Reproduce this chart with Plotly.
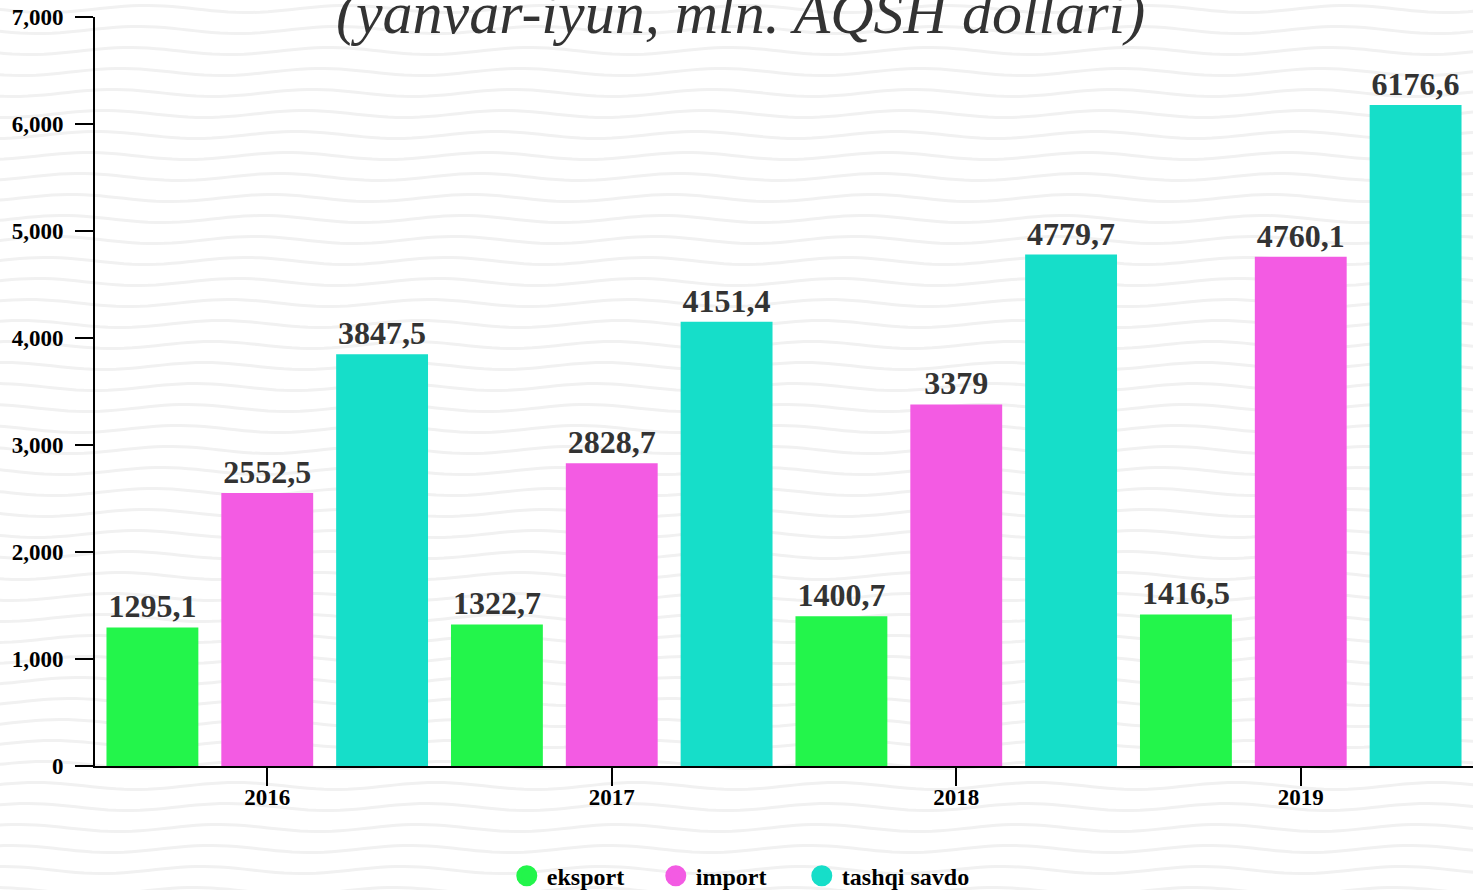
import numpy as np
import plotly.graph_objects as go

years = ["2016", "2017", "2018", "2019"]
eksport = [1295.1, 1322.7, 1400.7, 1416.5]
importv = [2552.5, 2828.7, 3379.0, 4760.1]
tashqi = [3847.5, 4151.4, 4779.7, 6176.6]
eksport_lbl = ["1295,1", "1322,7", "1400,7", "1416,5"]
import_lbl = ["2552,5", "2828,7", "3379", "4760,1"]
tashqi_lbl = ["3847,5", "4151,4", "4779,7", "6176,6"]
series_names = ["eksport", "import", "tashqi savdo"]
colors = ["#23f54b", "#f35be3", "#16dec9"]
legend_widths = [104, 101, 140]
title_text = "(yanvar-iyun, mln. AQSH dollari)"

W, H = 1473, 890
L, R, T, B = 95, 0, 17, 124
pw, ph = W - L - R, H - T - B

FONT = "Liberation Serif"

fig = go.Figure()
for name, vals, lbls, col, lw in zip(series_names, [eksport, importv, tashqi],
                                     [eksport_lbl, import_lbl, tashqi_lbl], colors,
                                     legend_widths):
    fig.add_trace(go.Bar(
        x=years, y=vals, name=name, marker=dict(color=col, line=dict(width=0)),
        text=lbls, textposition="outside", cliponaxis=False,
        textfont=dict(family=FONT, size=32, color="#333333", weight="bold"),
        showlegend=False, hoverinfo="x+y"))
    fig.add_trace(go.Scatter(
        x=[None], y=[None], mode="markers", name=name, legendwidth=lw,
        marker=dict(symbol="circle", size=22, color=col, line=dict(color=col, width=6)),
        showlegend=True))

# decorative wavy background
shapes = []
def px2paper(px, py):
    return (px - L) / pw, (H - B - py) / ph

xs = np.arange(-20, W + 21, 8)
for base in np.arange(-12, H + 20, 21):
    pts = []
    for xx in xs:
        yy = base + 3.5 * np.sin(2 * np.pi * (xx + 0.4 * base) / 200.0)
        a, b = px2paper(xx, yy)
        pts.append(f"{a:.5f},{b:.5f}")
    path = "M" + " L".join(pts)
    shapes.append(dict(type="path", path=path, xref="paper", yref="paper",
                       line=dict(color="#f1f1f1", width=3), layer="below"))

fig.update_layout(
    width=W, height=H,
    margin=dict(l=L, r=R, t=T, b=B, pad=0, autoexpand=False),
    paper_bgcolor="white", plot_bgcolor="rgba(0,0,0,0)",
    barmode="group", bargap=0.0, bargroupgap=0.2,
    shapes=shapes,
    font=dict(family=FONT, color="black"),
    legend=dict(orientation="h", x=0.473, xanchor="center", y=-0.117, yanchor="top",
                entrywidthmode="pixels",
                font=dict(family=FONT, size=24, color="black", weight="bold"),
                bgcolor="rgba(0,0,0,0)"),
    annotations=[dict(text=title_text, xref="paper", yref="paper", x=0.4685, y=1.0054,
                      xanchor="center", yanchor="middle", showarrow=False,
                      font=dict(family=FONT, size=60, color="#333333", style="italic"))],
    xaxis=dict(showline=True, linecolor="black", linewidth=2, ticks="outside",
               ticklen=18, tickwidth=2, tickcolor="black", showgrid=False,
               automargin=False, ticklabelstandoff=-9,
               tickfont=dict(family=FONT, size=23, color="black", weight="bold")),
    yaxis=dict(range=[0, 7000], dtick=1000, tickformat=",d", showline=True,
               linecolor="black", linewidth=2, ticks="outside", ticklen=18,
               tickwidth=2, tickcolor="black", showgrid=False, zeroline=False,
               automargin=False, ticklabelstandoff=7,
               tickfont=dict(family=FONT, size=23, color="black", weight="bold")),
)

fig.write_html("out.html", config={"displayModeBar": False},
               post_script="document.body.style.margin='0';document.body.style.overflow='hidden';")
